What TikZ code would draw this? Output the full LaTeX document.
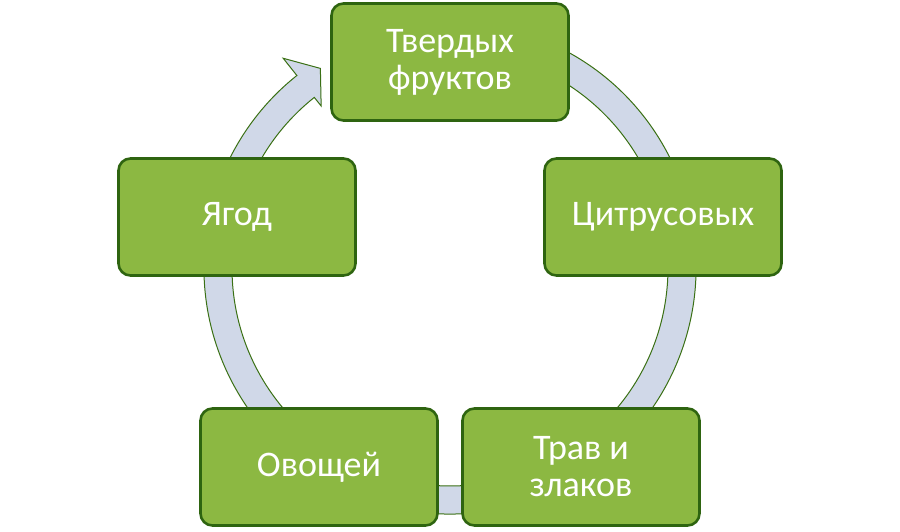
\documentclass[tikz,border=0pt]{standalone}
\usepackage{fontspec}
\setmainfont{Carlito}
\usetikzlibrary{calc}
\begin{document}
\begin{tikzpicture}[x=1pt,y=1pt,
  box/.style={draw=boxline,line width=2.6pt,fill=boxfill,rounded corners=12pt,minimum width=237pt,minimum height=117pt,text=white,font=\fontsize{36}{37}\selectfont,align=center,inner sep=0pt}]
\definecolor{boxfill}{HTML}{8CB842}
\definecolor{boxline}{HTML}{2E6410}
\definecolor{band}{HTML}{D0D8E8}
\definecolor{bandline}{HTML}{3A7014}
\useasboundingbox (0,0) rectangle (900,531);
\coordinate (C) at (450,263);
\draw[fill=band,draw=bandline,line width=1pt]
  ($(C)+(70:246)$) arc (70:-231.5:246) -- ($(C)+(-231.5:268)$) -- ($(C)+(-237:238)$)
  -- ($(C)+(-231.5:207)$) -- ($(C)+(-231.5:218)$) arc (-231.5:70:218) -- cycle;
\node[box] (a) at (450,469) {Твердых\\фруктов};
\node[box] (b) at (663,314) {Цитрусовых};
\node[box] (c) at (581,64) {Трав и\\злаков};
\node[box] (d) at (319,64) {Овощей};
\node[box] (e) at (237,314) {Ягод};
\end{tikzpicture}
\end{document}
